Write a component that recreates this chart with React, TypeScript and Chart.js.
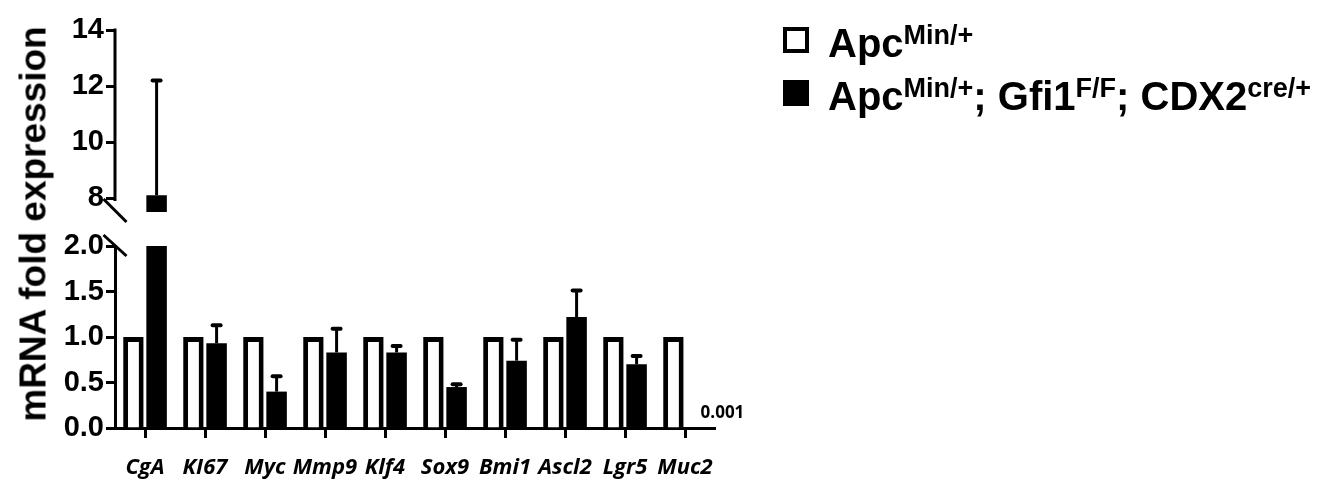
import React, { useEffect, useRef } from "react";
import { Chart, registerables } from "chart.js";

Chart.register(...registerables);

// ---------- data ----------
const categories = ["CgA", "KI67", "Myc", "Mmp9", "Klf4", "Sox9", "Bmi1", "Ascl2", "Lgr5", "Muc2"];
const seriesNames = ["Apc^{Min/+}", "Apc^{Min/+}; Gfi1^{F/F}; CDX2^{cre/+}"];
const controlMeans = [1, 1, 1, 1, 1, 1, 1, 1, 1, 1];
const knockoutMeans = [8.1, 0.93, 0.4, 0.83, 0.83, 0.45, 0.74, 1.22, 0.7, 0.001];
const knockoutErrors = [4.1, 0.2, 0.17, 0.26, 0.07, 0.03, 0.23, 0.29, 0.09, 0];
const lowerTicks = [0, 0.5, 1.0, 1.5, 2.0];
const upperTicks = [8, 10, 12, 14];
const yTitle = "mRNA fold expression";

const LOWER_MIN = 0;
const LOWER_MAX = 2.0;
const UPPER_MIN = 7.5;
const UPPER_MAX = 14;

// ---------- layout (pixels) ----------
const W = 1330;
const H = 484;
const AXIS_W = 115;
const X_AXIS_H = 56;
const TOP_PAD = 30;
const RIGHT_PAD = 615;
const LOWER_PX = 182;
const GAP_PX = 34;
const UPPER_PX = 182;

const FONT = '"Liberation Sans", Arial, Helvetica, sans-serif';

function parseRich(s: string) {
  const parts: { text: string; sup: boolean }[] = [];
  const re = /\^\{([^}]*)\}/g;
  let last = 0;
  let m: RegExpExecArray | null;
  while ((m = re.exec(s))) {
    if (m.index > last) parts.push({ text: s.slice(last, m.index), sup: false });
    parts.push({ text: m[1], sup: true });
    last = m.index + m[0].length;
  }
  if (last < s.length) parts.push({ text: s.slice(last), sup: false });
  return parts;
}
const plain = (s: string) => s.replace(/\^\{([^}]*)\}/g, "$1");

const scaleClipPlugin = {
  id: "scaleClip",
  beforeDatasetDraw(chart: any, args: any) {
    const ys = args.meta.yScale;
    const ca = chart.chartArea;
    const ctx = chart.ctx;
    ctx.save();
    ctx.beginPath();
    ctx.rect(ca.left - 20, ys.top, ca.right - ca.left + 40, ys.bottom - ys.top + 4);
    ctx.clip();
  },
  afterDatasetDraw(chart: any) {
    chart.ctx.restore();
  },
};

const errorBarPlugin = {
  id: "errorBars",
  afterDatasetsDraw(chart: any) {
    const ctx = chart.ctx;
    chart.data.datasets.forEach((ds: any, i: number) => {
      const meta = chart.getDatasetMeta(i);
      const ys = chart.scales[meta.yAxisID];
      meta.data.forEach((bar: any, j: number) => {
        const v = ds.data[j];
        if (v == null || v > ys.max) return;
        const e = ds.errors ? ds.errors[j] : 0;
        if (e) {
          const yTop = ys.getPixelForValue(v + e);
          ctx.save();
          ctx.strokeStyle = "#000";
          ctx.lineWidth = 3;
          ctx.beginPath();
          ctx.moveTo(bar.x, bar.y);
          ctx.lineTo(bar.x, yTop);
          ctx.stroke();
          ctx.lineWidth = 4;
          ctx.lineCap = "round";
          ctx.beginPath();
          ctx.moveTo(bar.x - 4, yTop);
          ctx.lineTo(bar.x + 4, yTop);
          ctx.stroke();
          ctx.restore();
        }
        if (ds.smallLabels && v > 0 && v < 0.01) {
          ctx.save();
          ctx.fillStyle = "#000";
          ctx.font = 'bold 17px "Open Sans", sans-serif';
          ctx.textAlign = "left";
          ctx.textBaseline = "middle";
          ctx.fillText(String(v), bar.x + 4, bar.y - 15);
          ctx.restore();
        }
      });
    });
  },
};

const breakPlugin = {
  id: "axisBreak",
  afterDraw(chart: any) {
    const ctx = chart.ctx;
    const x = chart.chartArea.left;
    const up = chart.scales.yTop;
    const lo = chart.scales.yBot;
    ctx.save();
    ctx.strokeStyle = "#000";
    ctx.lineWidth = 3;
    // upper axis line, ending just below its lowest tick
    ctx.beginPath();
    ctx.moveTo(x, up.top - 1.5);
    ctx.lineTo(x, up.getPixelForValue(upperTicks[0]) + 3);
    ctx.stroke();
    // break marks
    ctx.beginPath();
    ctx.moveTo(x - 11.5, up.bottom - 13);
    ctx.lineTo(x + 11.5, up.bottom + 10);
    ctx.moveTo(x - 11.5, lo.top - 11);
    ctx.lineTo(x + 11.5, lo.top + 10);
    ctx.stroke();
    ctx.restore();
  },
};

const yGrid = {
  display: true,
  drawOnChartArea: false,
  drawTicks: true,
  tickLength: 9,
  tickWidth: 3,
  tickColor: "#000",
};
const yTickFont = { family: FONT, size: 29, weight: "bold" as const };

export default function App() {
  const ref = useRef<HTMLCanvasElement>(null);

  useEffect(() => {
    if (!ref.current) return;
    const chart = new Chart(ref.current, {
      type: "bar",
      data: {
        labels: categories,
        datasets: [
          {
            label: plain(seriesNames[0]),
            data: controlMeans,
            yAxisID: "yBot",
            stack: "w",
            backgroundColor: "#ffffff",
            borderColor: "#000000",
            borderWidth: 5,
            borderSkipped: "start",
          } as any,
          {
            label: plain(seriesNames[1]),
            data: knockoutMeans,
            yAxisID: "yBot",
            stack: "b",
            backgroundColor: "#000000",
            borderWidth: 0,
            errors: knockoutErrors,
            smallLabels: true,
          } as any,
          {
            label: plain(seriesNames[1]) + " (upper)",
            data: knockoutMeans.map((v) => (v > LOWER_MAX ? v : null)),
            yAxisID: "yTop",
            stack: "b",
            backgroundColor: "#000000",
            borderWidth: 0,
            errors: knockoutErrors,
          } as any,
        ],
      },
      options: {
        responsive: false,
        maintainAspectRatio: false,
        devicePixelRatio: 1,
        animation: false,
        layout: { padding: { top: TOP_PAD, left: 0, right: RIGHT_PAD, bottom: 0 } },
        datasets: { bar: { categoryPercentage: 0.773, barPercentage: 0.884 } },
        plugins: { legend: { display: false }, tooltip: { enabled: false }, title: { display: false } },
        scales: {
          x: {
            type: "category",
            offset: true,
            grid: {
              display: true,
              offset: false,
              drawOnChartArea: false,
              drawTicks: true,
              tickLength: 10,
              tickWidth: 3,
              tickColor: "#000",
            },
            border: { display: true, color: "#000", width: 3 },
            ticks: {
              color: "#000",
              font: { family: '"Open Sans", sans-serif', size: 22, weight: "bold", style: "italic" },
              padding: 17,
              maxRotation: 0,
              autoSkip: false,
            },
            afterFit: (s: any) => {
              s.height = X_AXIS_H;
            },
          },
          yBot: {
            type: "linear",
            position: "left",
            stack: "y",
            stackWeight: LOWER_PX,
            stacked: false,
            min: LOWER_MIN,
            max: LOWER_MAX,
            grid: yGrid,
            border: { display: true, color: "#000", width: 3 },
            ticks: {
              color: "#000",
              font: yTickFont,
              padding: 2,
              autoSkip: false,
              callback: (v: any) => Number(v).toFixed(1),
            },
            afterBuildTicks: (s: any) => {
              s.ticks = lowerTicks.map((v) => ({ value: v }));
            },
            afterFit: (s: any) => {
              s.width = AXIS_W;
            },
          },
          yGap: {
            type: "linear",
            position: "left",
            stack: "y",
            stackWeight: GAP_PX,
            stacked: false,
            min: 0,
            max: 1,
            grid: { display: false },
            border: { display: false },
            ticks: { display: false },
            afterFit: (s: any) => {
              s.width = AXIS_W;
            },
          },
          yTop: {
            type: "linear",
            position: "left",
            stack: "y",
            stackWeight: UPPER_PX,
            stacked: false,
            min: UPPER_MIN,
            max: UPPER_MAX,
            grid: yGrid,
            border: { display: false },
            ticks: {
              color: "#000",
              font: yTickFont,
              padding: 2,
              autoSkip: false,
              callback: (v: any) => String(v),
            },
            afterBuildTicks: (s: any) => {
              s.ticks = upperTicks.map((v) => ({ value: v }));
            },
            afterFit: (s: any) => {
              s.width = AXIS_W;
            },
          },
        } as any,
      },
      plugins: [scaleClipPlugin, errorBarPlugin, breakPlugin],
    } as any);
    return () => chart.destroy();
  }, []);

  const legendFills = ["#ffffff", "#000000"];

  return (
    <div
      style={{
        position: "fixed",
        left: 0,
        top: 0,
        width: W,
        height: H,
        background: "#fff",
        overflow: "hidden",
      }}
    >
      <canvas
        ref={ref}
        width={W}
        height={H}
        style={{ position: "absolute", left: 0, top: 0, width: W, height: H }}
      />
      <div
        style={{
          position: "absolute",
          left: 33,
          top: 224,
          transform: "translate(-50%, -50%) rotate(-90deg)",
          whiteSpace: "nowrap",
          fontFamily: FONT,
          fontWeight: "bold",
          fontSize: 37,
          lineHeight: 1,
          color: "#000",
        }}
      >
        {yTitle}
      </div>
      {seriesNames.map((name, i) => {
        const rowTop = 27 + i * 53;
        return (
          <React.Fragment key={i}>
            <div
              style={{
                position: "absolute",
                left: 783,
                top: rowTop,
                width: 26,
                height: 26,
                boxSizing: "border-box",
                border: "4px solid #000",
                background: legendFills[i],
              }}
            />
            <div
              style={{
                position: "absolute",
                left: 828,
                top: rowTop - 4,
                whiteSpace: "pre",
                fontFamily: FONT,
                fontWeight: "bold",
                fontSize: 40,
                lineHeight: "40px",
                color: "#000",
              }}
            >
              {parseRich(name).map((p, k) =>
                p.sup ? (
                  <span key={k} style={{ fontSize: 27, verticalAlign: 13, lineHeight: 0 }}>
                    {p.text}
                  </span>
                ) : (
                  <span key={k}>{p.text}</span>
                )
              )}
            </div>
          </React.Fragment>
        );
      })}
    </div>
  );
}
